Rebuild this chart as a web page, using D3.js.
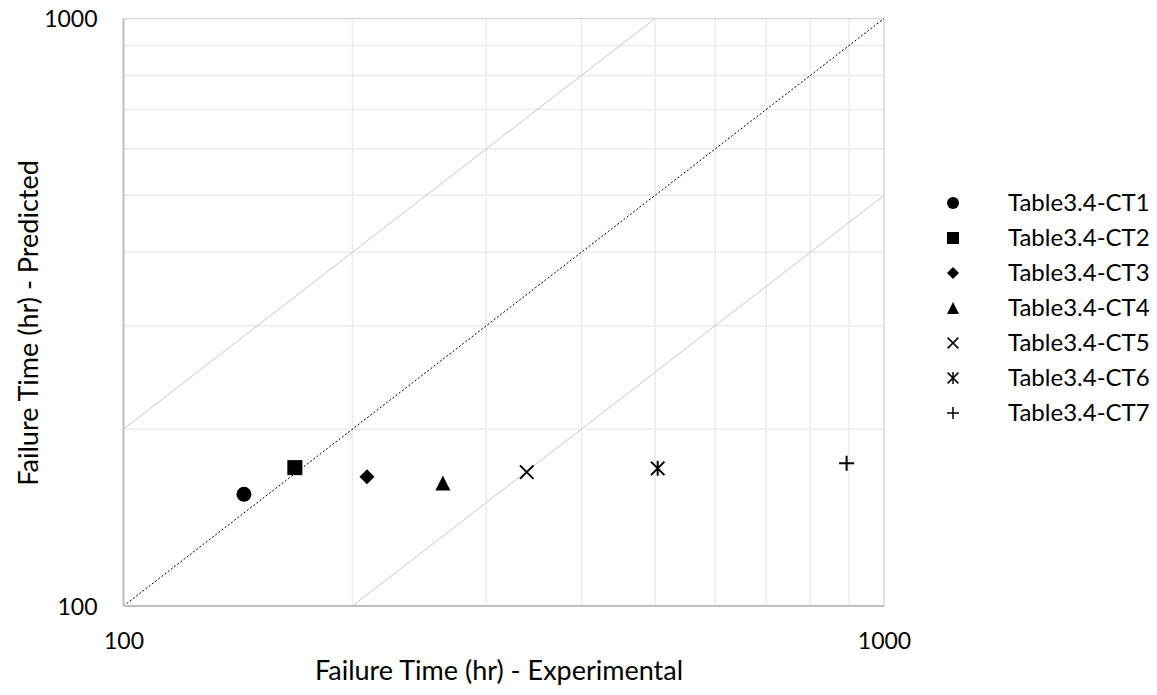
<!DOCTYPE html>
<html>
<head>
<meta charset="utf-8">
<script src="https://cdn.jsdelivr.net/npm/d3@7"></script>
<style>
  html, body { margin: 0; padding: 0; background: #fff; }
  svg { display: block; font-family: Lato, "Open Sans", sans-serif; }
</style>
</head>
<body>
<svg id="chart" width="1157" height="695"></svg>
<script>
// Series names shown in the legend
const categories = ["Table3.4-CT1", "Table3.4-CT2", "Table3.4-CT3", "Table3.4-CT4",
                    "Table3.4-CT5", "Table3.4-CT6", "Table3.4-CT7"];
// Failure time (hr), experimental vs predicted
const experimental = [144, 168, 209, 263, 339, 504, 893];
const predicted    = [155, 172, 166, 162, 169, 171.5, 175];
// Marker used by each series
const markerShapes = ["circle", "square", "diamond", "triangle", "x", "asterisk", "plus"];
// Labelled ticks and minor grid values
const tickValues = [100, 1000];
const minorValues = [200, 300, 400, 500, 600, 700, 800, 900];
// Reference lines: predicted = ratio * experimental
const ratioLines = [2, 1, 0.5];

const svg = d3.select("#chart");
const plot = { left: 123.5, right: 884, top: 18.5, bottom: 606 };

const x = d3.scaleLog().domain([100, 1000]).range([plot.left, plot.right]);
const y = d3.scaleLog().domain([100, 1000]).range([plot.bottom, plot.top]);

// Minor grid
const grid = svg.append("g");
grid.selectAll("line.vx").data(minorValues).join("line")
  .attr("x1", d => x(d)).attr("x2", d => x(d))
  .attr("y1", plot.top).attr("y2", plot.bottom)
  .attr("stroke", "#ececec").attr("stroke-width", 1.5);
grid.selectAll("line.hy").data(minorValues).join("line")
  .attr("y1", d => y(d)).attr("y2", d => y(d))
  .attr("x1", plot.left).attr("x2", plot.right)
  .attr("stroke", "#ececec").attr("stroke-width", 1.5);
// Major grid at 1000 (top and right edges)
grid.append("line")
  .attr("x1", plot.left).attr("x2", plot.right)
  .attr("y1", y(1000)).attr("y2", y(1000))
  .attr("stroke", "#d9d9d9").attr("stroke-width", 1.5);
grid.append("line")
  .attr("x1", x(1000)).attr("x2", x(1000))
  .attr("y1", plot.top).attr("y2", plot.bottom)
  .attr("stroke", "#d9d9d9").attr("stroke-width", 1.5);

// Reference lines, clipped to the plot area
svg.append("clipPath").attr("id", "plotClip")
  .append("rect")
  .attr("x", plot.left).attr("y", plot.top)
  .attr("width", plot.right - plot.left).attr("height", plot.bottom - plot.top);

const refs = svg.append("g").attr("clip-path", "url(#plotClip)");
ratioLines.forEach(r => {
  const x0 = Math.max(100, 100 / r), x1 = Math.min(1000, 1000 / r);
  refs.append("line")
    .attr("x1", x(x0)).attr("y1", y(x0 * r))
    .attr("x2", x(x1)).attr("y2", y(x1 * r))
    .attr("stroke", r === 1 ? "#000" : "#c8c8c8")
    .attr("stroke-width", 1)
    .attr("stroke-dasharray", r === 1 ? "2,2" : null);
});

// Axis lines
svg.append("line")
  .attr("x1", plot.left).attr("x2", plot.left)
  .attr("y1", plot.top).attr("y2", plot.bottom)
  .attr("stroke", "#bfbfbf").attr("stroke-width", 2);
svg.append("line")
  .attr("x1", plot.left).attr("x2", plot.right)
  .attr("y1", plot.bottom).attr("y2", plot.bottom)
  .attr("stroke", "#bfbfbf").attr("stroke-width", 2);

// Axes (labels only)
const xAxis = svg.append("g")
  .attr("transform", `translate(0,${plot.bottom})`)
  .call(d3.axisBottom(x).tickValues(tickValues).tickSize(0).tickFormat(d3.format("d")));
xAxis.select(".domain").remove();
xAxis.selectAll("text")
  .attr("y", 43).attr("dy", null)
  .attr("font-size", 23).attr("font-family", "Lato").attr("fill", "#000");

const yAxis = svg.append("g")
  .attr("transform", `translate(${plot.left},0)`)
  .call(d3.axisLeft(y).tickValues(tickValues).tickSize(0).tickFormat(d3.format("d")));
yAxis.select(".domain").remove();
yAxis.selectAll("text")
  .attr("x", -26).attr("dy", "0.35em")
  .attr("font-size", 23).attr("font-family", "Lato").attr("fill", "#000");

// Axis titles
svg.append("text")
  .attr("x", 499).attr("y", 680)
  .attr("text-anchor", "middle")
  .attr("font-size", 27).attr("fill", "#000")
  .text("Failure Time (hr) - Experimental");
svg.append("text")
  .attr("transform", "translate(38,323) rotate(-90)")
  .attr("text-anchor", "middle")
  .attr("font-size", 27).attr("fill", "#000")
  .text("Failure Time (hr) - Predicted");

// Marker drawing
function marker(sel, shape, s, strokeW) {
  const h = s / 2;
  if (shape === "circle") {
    sel.append("circle").attr("r", h).attr("fill", "#000");
  } else if (shape === "square") {
    sel.append("rect").attr("x", -h).attr("y", -h).attr("width", s).attr("height", s).attr("fill", "#000");
  } else if (shape === "diamond") {
    sel.append("path").attr("d", `M0,${-h}L${h},0L0,${h}L${-h},0Z`).attr("fill", "#000");
  } else if (shape === "triangle") {
    sel.append("path").attr("d", `M0,${-h}L${h},${h}L${-h},${h}Z`).attr("fill", "#000");
  } else {
    const k = h * 0.9;
    let d = "";
    if (shape === "x" || shape === "asterisk") d += `M${-k},${-k}L${k},${k}M${-k},${k}L${k},${-k}`;
    if (shape === "asterisk") d += `M0,${-h}L0,${h}`;
    if (shape === "plus") d += `M${-h},0L${h},0M0,${-h}L0,${h}`;
    sel.append("path").attr("d", d).attr("fill", "none")
      .attr("stroke", "#000").attr("stroke-width", strokeW);
  }
}

// Data points
const points = svg.append("g");
categories.forEach((c, i) => {
  const g = points.append("g")
    .attr("transform", `translate(${x(experimental[i])},${y(predicted[i])})`);
  marker(g, markerShapes[i], 15, 2);
});

// Legend
const legend = svg.append("g");
categories.forEach((c, i) => {
  const row = legend.append("g").attr("transform", `translate(953,${203 + i * 35})`);
  marker(row, markerShapes[i], 12, 1.5);
  row.append("text")
    .attr("x", 55).attr("dy", "0.35em")
    .attr("font-size", 24).attr("fill", "#000")
    .text(c);
});
</script>
</body>
</html>
